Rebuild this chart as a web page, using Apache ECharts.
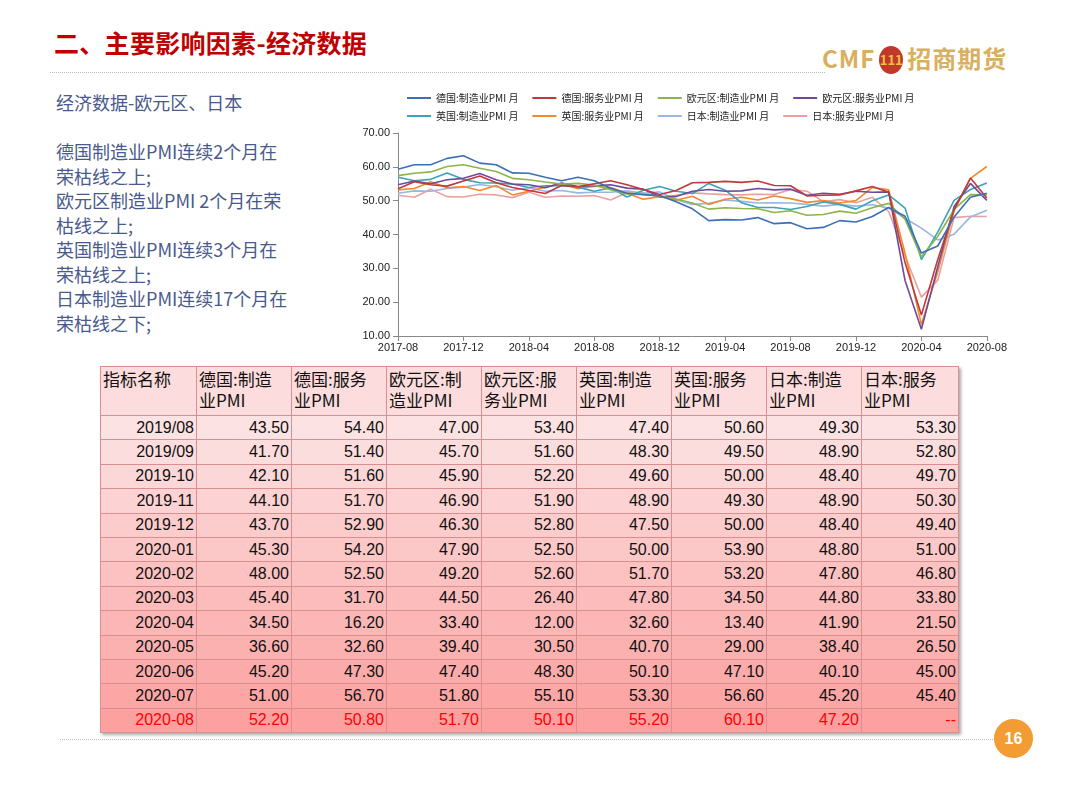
<!DOCTYPE html>
<html><head><meta charset="utf-8">
<script src="https://cdn.jsdelivr.net/npm/echarts@6/dist/echarts.min.js"></script>
<style>
body{margin:0;width:1080px;height:786px;background:#fff;position:relative;overflow:hidden;font-family:"Liberation Sans","Noto Sans CJK SC",sans-serif}
#title{position:absolute;left:54px;top:24px;font-size:25px;font-weight:bold;color:#c00000;font-family:"Noto Sans CJK SC";letter-spacing:0.3px}
#logo{position:absolute;left:822px;top:40px;font-size:24px;font-weight:bold;color:#d9b060;font-family:"Noto Sans CJK SC";letter-spacing:1px}
#logo .c{display:inline-block;width:24px;height:28px;border-radius:50%;background:#c0392b;color:#f0c040;font-size:13px;text-align:center;line-height:28px;vertical-align:3px;margin:0 4px;letter-spacing:0}
.dl{position:absolute;border-top:1px dotted #bbb}
#left{position:absolute;left:56px;top:90px;font-size:18px;line-height:24.5px;color:#4a5a8c;font-family:"Noto Sans CJK SC";width:300px;white-space:nowrap}
#chart{position:absolute;left:350px;top:80px;width:660px;height:282px}
table{position:absolute;left:100px;top:366px;border-collapse:collapse;border:1.5px solid #e57f7f;box-shadow:2px 2px 3px #aaa}
td{border:1px solid #d98f8f;font-size:16px;height:23.4px;padding:0 2px;text-align:right;color:#111}
tr.h td{text-align:left;font-size:17px;line-height:21px;height:47px;vertical-align:top;padding-top:1px;font-family:"Noto Sans CJK SC","Liberation Sans"}
#pg{position:absolute;left:994px;top:719px;width:39px;height:39px;border-radius:50%;background:#f39c33;color:#fff;font-weight:bold;font-size:16px;text-align:center;line-height:39px}
</style></head><body>
<div id="title">二、主要影响因素-经济数据</div>
<div id="logo">CMF<span class="c">111</span>招商期货</div>
<div class="dl" style="left:50px;top:72px;width:775px"></div>
<div id="left">经济数据-欧元区、日本<br><br>德国制造业PMI连续2个月在<br>荣枯线之上;<br>欧元区制造业PMI 2个月在荣<br>枯线之上;<br>英国制造业PMI连续3个月在<br>荣枯线之上;<br>日本制造业PMI连续17个月在<br>荣枯线之下;</div>
<div id="chart"></div>
<table id="tb"></table>
<div class="dl" style="left:60px;top:739px;width:935px"></div>
<div id="pg">16</div>
<script>
const seriesNames=['德国:制造业PMI 月','德国:服务业PMI 月','欧元区:制造业PMI 月','欧元区:服务业PMI 月','英国:制造业PMI 月','英国:服务业PMI 月','日本:制造业PMI 月','日本:服务业PMI 月'];
const colors=['#3d6fb6','#c0393b','#8db44a','#6e4a9a','#3aa3b8','#f08a2c','#9bb6e0','#eba0a0'];
const deMfg=[59.3,60.6,60.6,62.5,63.3,61.1,60.6,58.2,58.1,56.9,55.9,56.9,55.9,53.7,52.2,51.8,51.5,49.7,47.6,44.1,44.4,44.3,45.0,43.2,43.5,41.7,42.1,44.1,43.7,45.3,48.0,45.4,34.5,36.6,45.2,51.0,52.2];
const deSrv=[53.5,55.6,54.7,54.3,55.8,57.3,55.3,53.9,53.0,52.1,54.5,54.1,55.0,55.9,54.7,53.3,51.8,53.0,55.3,55.4,55.7,55.4,55.8,54.5,54.4,51.4,51.6,51.7,52.9,54.2,52.5,31.7,16.2,32.6,47.3,56.7,50.8];
const ezMfg=[57.4,58.1,58.5,60.1,60.6,59.6,58.6,56.6,56.2,55.5,54.9,55.1,54.6,53.2,52.0,51.8,51.4,50.5,49.3,47.5,47.9,47.7,47.6,46.5,47.0,45.7,45.9,46.9,46.3,47.9,49.2,44.5,33.4,39.4,47.4,51.8,51.7];
const ezSrv=[54.7,55.8,55.0,56.2,56.6,58.0,56.2,54.9,54.7,53.8,55.2,54.2,54.4,54.7,53.7,53.4,51.2,51.2,52.8,53.3,52.8,52.9,53.6,53.2,53.4,51.6,52.2,51.9,52.8,52.5,52.6,26.4,12.0,30.5,48.3,55.1,50.1];
const ukMfg=[56.9,55.9,56.3,58.2,56.3,55.3,55.2,54.9,53.9,54.4,54.4,54.0,52.8,53.8,51.1,53.1,54.2,52.8,52.1,55.1,53.1,49.4,48.0,48.0,47.4,48.3,49.6,48.9,47.5,50.0,51.7,47.8,32.6,40.7,50.1,53.3,55.2];
const ukSrv=[53.2,53.6,55.6,53.8,54.2,53.0,54.5,51.7,52.8,54.0,55.1,53.5,54.3,53.9,52.2,50.4,51.2,50.1,51.3,48.9,50.4,51.0,50.2,51.4,50.6,49.5,50.0,49.3,50.0,53.9,53.2,34.5,13.4,29.0,47.1,56.6,60.1];
const jpMfg=[52.2,52.9,52.8,53.6,54.0,54.8,54.1,53.1,53.8,52.8,53.0,52.3,52.5,52.5,52.9,52.2,52.6,50.3,48.9,49.2,50.2,49.8,49.3,49.4,49.3,48.9,48.4,48.9,48.4,48.8,47.8,44.8,41.9,38.4,40.1,45.2,47.2];
const jpSrv=[51.6,51.0,53.4,51.2,51.1,51.9,51.7,50.9,52.5,51.0,51.4,51.3,51.5,50.2,52.4,52.3,51.0,51.6,52.3,52.0,51.8,51.7,51.9,51.8,53.3,52.8,49.7,50.3,49.4,51.0,46.8,33.8,21.5,26.5,45.0,45.4,45.3];
const allSeries=[deMfg,deSrv,ezMfg,ezSrv,ukMfg,ukSrv,jpMfg,jpSrv];
const months=[];for(let y=2017,m=8;months.length<37;){months.push(y+'-'+String(m).padStart(2,'0'));m++;if(m>12){m=1;y++;}}
const tableHeaderHtml=['指标名称','德国:制造<br>业PMI','德国:服务<br>业PMI','欧元区:制<br>造业PMI','欧元区:服<br>务业PMI','英国:制造<br>业PMI','英国:服务<br>业PMI','日本:制造<br>业PMI','日本:服务<br>业PMI'];
const tableDates=['2019/08','2019/09','2019-10','2019-11','2019-12','2020-01','2020-02','2020-03','2020-04','2020-05','2020-06','2020-07','2020-08'];
const widths=[96,95,95,95,95,95,95,95,97];
let html='<tr class="h" style="background:#fcdcdc">'+tableHeaderHtml.map((h,i)=>'<td style="width:'+(widths[i]-5)+'px">'+h+'</td>').join('')+'</tr>';
tableDates.forEach((d,r)=>{
  const t=r/12;const g=Math.round(226-t*(226-160));
  const last=r===12;const st=last?'color:#f00':'';
  html+='<tr style="background:rgb(252,'+g+','+g+')">';
  html+='<td style="'+st+'">'+d+'</td>';
  allSeries.forEach((s,k)=>{let v=s[24+r];let txt=(k===7&&last)?'--':v.toFixed(2);html+='<td style="'+st+'">'+txt+'</td>';});
  html+='</tr>';
});
document.getElementById('tb').innerHTML=html;
const ch=echarts.init(document.getElementById('chart'));
const lg=(top,names)=>({top:top,left:52,itemWidth:24,itemHeight:2,itemGap:14,icon:'rect',textStyle:{fontSize:10,color:'#222',fontFamily:'Noto Sans CJK SC',width:88,overflow:'none'},data:names});
ch.setOption({
  animation:false,color:colors,
  legend:[lg(8,seriesNames.slice(0,4)),lg(26,seriesNames.slice(4))],
  grid:{left:48,right:20,top:53,bottom:26},
  xAxis:{type:'category',data:months,boundaryGap:false,axisLine:{lineStyle:{color:'#888'}},axisTick:{interval:3,alignWithLabel:true,lineStyle:{color:'#888'}},axisLabel:{interval:3,fontSize:11,color:'#222',margin:6}},
  yAxis:{type:'value',min:10,max:70,interval:10,axisLine:{show:true,lineStyle:{color:'#888'}},axisTick:{show:true,lineStyle:{color:'#888'}},splitLine:{show:false},axisLabel:{formatter:v=>v.toFixed(2),fontSize:11,color:'#222'}},
  series:allSeries.map((s,i)=>({name:seriesNames[i],type:'line',data:s,showSymbol:false,lineStyle:{width:1.6},z:10-i}))
});
</script></body></html>
